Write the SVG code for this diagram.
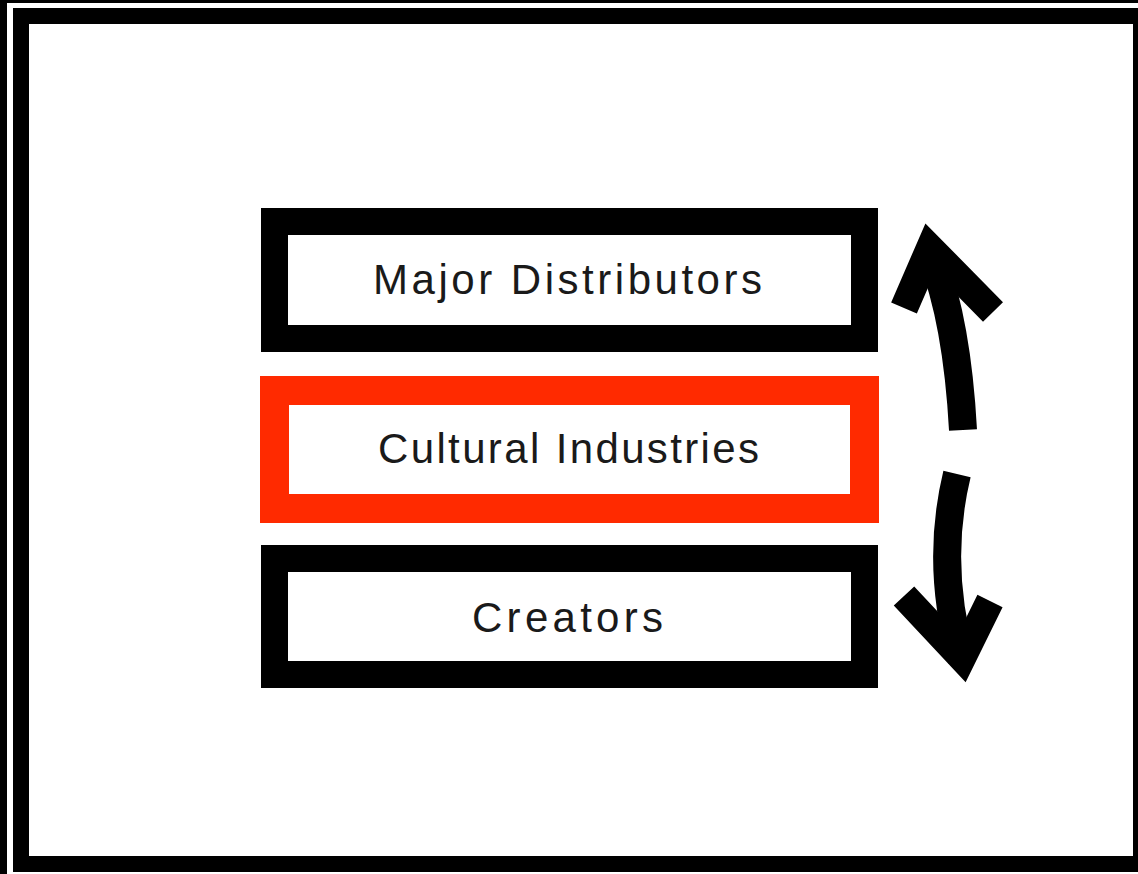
<svg xmlns="http://www.w3.org/2000/svg" width="1138" height="874" viewBox="0 0 1138 874">
  <style>
    .box { fill: #ffffff; stroke-width: 27; }
    .dark { stroke: #000000; }
    .accent { stroke: #ff2a00; }
    .label { font-family: "Liberation Sans", Arial, sans-serif; font-size: 42px; fill: #1a1a1a; text-anchor: middle; }
    .arrow { fill: none; stroke: #000000; stroke-width: 28; stroke-linecap: butt; stroke-linejoin: miter; stroke-miterlimit: 10; }
  </style>

  <!-- double page frame -->
  <g id="frame">
    <rect x="0" y="0" width="1138" height="874" fill="#000000"/>
    <rect x="7" y="3" width="1131" height="871" fill="#ffffff"/>
    <rect x="13" y="8" width="1125" height="864" fill="#000000"/>
    <rect x="29" y="24" width="1104" height="832" fill="#ffffff"/>
  </g>

  <g id="major-distributors">
    <rect class="box dark" x="274.5" y="221.5" width="590" height="117"/>
    <text class="label" x="567.5" y="294" textLength="389" lengthAdjust="spacing">Major Distributors</text>
  </g>

  <g id="cultural-industries">
    <rect class="box accent" x="274.5" y="390.5" width="590" height="118" style="stroke-width:29"/>
    <text class="label" x="568.5" y="463" textLength="381" lengthAdjust="spacing">Cultural Industries</text>
  </g>

  <g id="creators">
    <rect class="box dark" x="274.5" y="558.5" width="590" height="116"/>
    <text class="label" x="567.5" y="632" textLength="191" lengthAdjust="spacing">Creators</text>
  </g>

  <g id="connectors">
    <!-- upward flow -->
    <path class="arrow" d="M963,430 Q957,320 931,255"/>
    <path class="arrow" d="M904,308 L930,248 L993,312"/>
    <!-- downward flow -->
    <path class="arrow" d="M957,474 Q935,565 962,660"/>
    <path class="arrow" d="M904,596 L962,658 L990,601"/>
  </g>
</svg>
